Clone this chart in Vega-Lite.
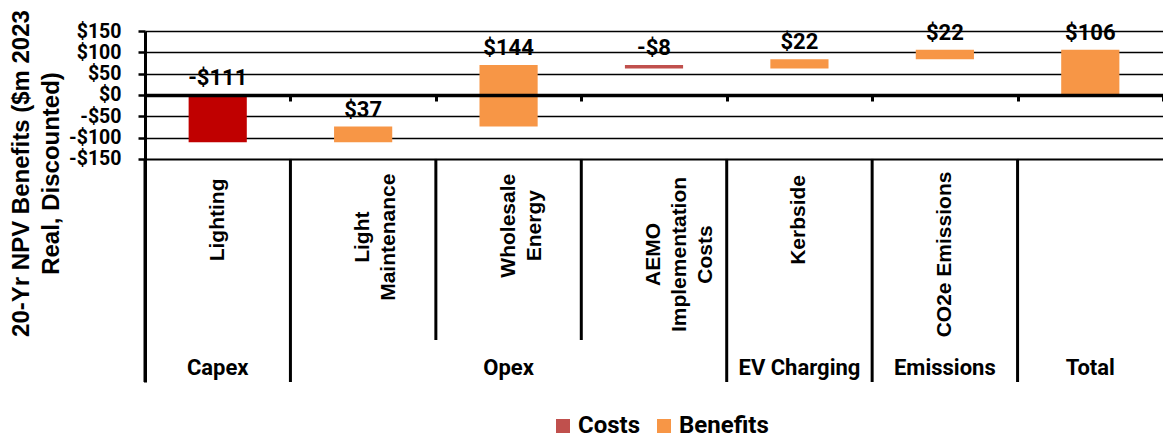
{
  "$schema": "https://vega.github.io/schema/vega-lite/v6.json",
  "width": 1018,
  "height": 351,
  "autosize": {"type": "none"},
  "padding": {"left": 145, "top": 31, "right": 0, "bottom": 57},
  "background": "white",
  "config": {"view": {"stroke": null}, "font": "Roboto"},
  "data": {
    "values": [
      {"category": "Lighting", "group": "Capex", "series": "Capital Costs", "value": -111},
      {"category": "Light\nMaintenance", "group": "Opex", "series": "Benefits", "value": 37},
      {"category": "Wholesale\nEnergy", "group": "Opex", "series": "Benefits", "value": 144},
      {"category": "AEMO\nImplementation\nCosts", "group": "Opex", "series": "Costs", "value": -8},
      {"category": "Kerbside", "group": "EV Charging", "series": "Benefits", "value": 22},
      {"category": "CO2e Emissions", "group": "Emissions", "series": "Benefits", "value": 22},
      {"category": "Total", "group": "Total", "series": "Benefits", "value": 106}
    ]
  },
  "transform": [
    {"window": [{"op": "sum", "field": "value", "as": "running"}]},
    {"calculate": "datum.group === 'Total' ? datum.value : datum.running", "as": "end"},
    {"calculate": "datum.group === 'Total' ? 0 : datum.running - datum.value", "as": "start"},
    {"calculate": "max(datum.start, datum.end)", "as": "top"},
    {"calculate": "(datum.value < 0 ? '-$' : '$') + abs(datum.value)", "as": "label"},
    {"window": [{"op": "row_number", "as": "pos"}, {"op": "count", "as": "n"}], "groupby": ["group"], "frame": [null, null]},
    {"calculate": "split(datum.category, '\\n')", "as": "lines"},
    {"calculate": "max(length(datum.lines[0]), length(datum.lines[1] || ''), length(datum.lines[2] || ''))", "as": "longest"},
    {"calculate": "-185 - 13.5 * datum.longest", "as": "labelMid"}
  ],
  "layer": [
    {
      "mark": {"type": "bar", "width": {"band": 0.4}},
      "encoding": {
        "x": {
          "field": "category",
          "type": "nominal",
          "sort": null,
          "scale": {"paddingInner": 0, "paddingOuter": 0},
          "axis": {
            "title": null,
            "labels": false,
            "orient": "bottom",
            "offset": -287,
            "domainColor": "black",
            "domainWidth": 3.5,
            "tickColor": "black",
            "tickWidth": 3,
            "tickSize": 6,
            "tickBand": "extent",
            "grid": false,
            "zindex": 1
          }
        },
        "y": {
          "field": "start",
          "type": "quantitative",
          "scale": {"domain": [-673, 150], "nice": false, "zero": false},
          "axis": {
            "title": ["20-Yr NPV Benefits ($m 2023", "Real, Discounted)"],
            "values": [-150, -100, -50, 0, 50, 100, 150],
            "labelExpr": "(datum.value < 0 ? '-$' : '$') + abs(datum.value)",
            "labelFont": "Roboto",
            "labelFontSize": 19.5,
            "labelFontWeight": "bold",
            "labelColor": "black",
            "labelPadding": 17,
            "labelOverlap": false,
            "labelFlush": false,
            "tickSize": 7,
            "tickWidth": 2.5,
            "tickColor": "black",
            "domainColor": "black",
            "domainWidth": 3,
            "grid": true,
            "gridColor": "black",
            "gridWidth": {"condition": {"test": "datum.value === -150", "value": 2.2}, "value": 1.3},
            "titleFont": "Liberation Sans",
            "titleFontSize": 24,
            "titleFontWeight": "bold",
            "titleColor": "black",
            "titleLineHeight": 30,
            "titleX": -124,
            "titleY": 142,
            "titleAngle": 270,
            "titleAlign": "center",
            "titleBaseline": "middle"
          }
        },
        "y2": {"field": "end"},
        "color": {
          "field": "series",
          "type": "nominal",
          "scale": {"domain": ["Costs", "Benefits", "Capital Costs"], "range": ["#C0504D", "#F79646", "#C00000"]},
          "legend": {
            "orient": "none",
            "legendX": 406,
            "legendY": 383,
            "direction": "horizontal",
            "title": null,
            "values": ["Costs", "Benefits"],
            "symbolType": "square",
            "symbolSize": 196,
            "symbolStrokeWidth": 0,
            "labelFont": "Roboto",
            "labelFontSize": 24,
            "labelFontWeight": "bold",
            "labelColor": "black",
            "columnPadding": 11,
            "labelOffset": 3,
            "padding": 0
          }
        }
      }
    },
    {
      "mark": {"type": "text", "font": "Roboto", "fontSize": 22, "fontWeight": "bold", "baseline": "middle", "dy": -17, "color": "black"},
      "encoding": {
        "x": {"field": "category", "type": "nominal", "sort": null},
        "y": {"field": "top", "type": "quantitative"},
        "text": {"field": "label"}
      }
    },
    {
      "transform": [{"filter": "datum.pos === 1"}],
      "mark": {"type": "rule", "color": "black", "strokeWidth": 3},
      "encoding": {
        "x": {"field": "category", "type": "nominal", "sort": null, "bandPosition": 0},
        "y": {"datum": -150},
        "y2": {"datum": -673}
      }
    },
    {
      "transform": [{"filter": "datum.pos > 1"}],
      "mark": {"type": "rule", "color": "black", "strokeWidth": 3},
      "encoding": {
        "x": {"field": "category", "type": "nominal", "sort": null, "bandPosition": 0},
        "y": {"datum": -150},
        "y2": {"datum": -574.5}
      }
    },
    {
      "transform": [{"filter": "datum.group !== 'Total'"}],
      "mark": {"type": "text", "angle": 270, "align": "center", "baseline": "middle", "lineBreak": "\n", "lineHeight": 26, "font": "Liberation Sans", "fontSize": 21, "fontWeight": "bold", "color": "black"},
      "encoding": {
        "x": {"field": "category", "type": "nominal", "sort": null},
        "y": {"field": "labelMid", "type": "quantitative"},
        "text": {"field": "category"}
      }
    },
    {
      "transform": [{"filter": "datum.pos === ceil(datum.n / 2)"}],
      "mark": {"type": "text", "font": "Roboto", "fontSize": 22, "fontWeight": "bold", "baseline": "middle", "color": "black"},
      "encoding": {
        "x": {"field": "category", "type": "nominal", "sort": null},
        "y": {"datum": -640},
        "text": {"field": "group"}
      }
    }
  ]
}
